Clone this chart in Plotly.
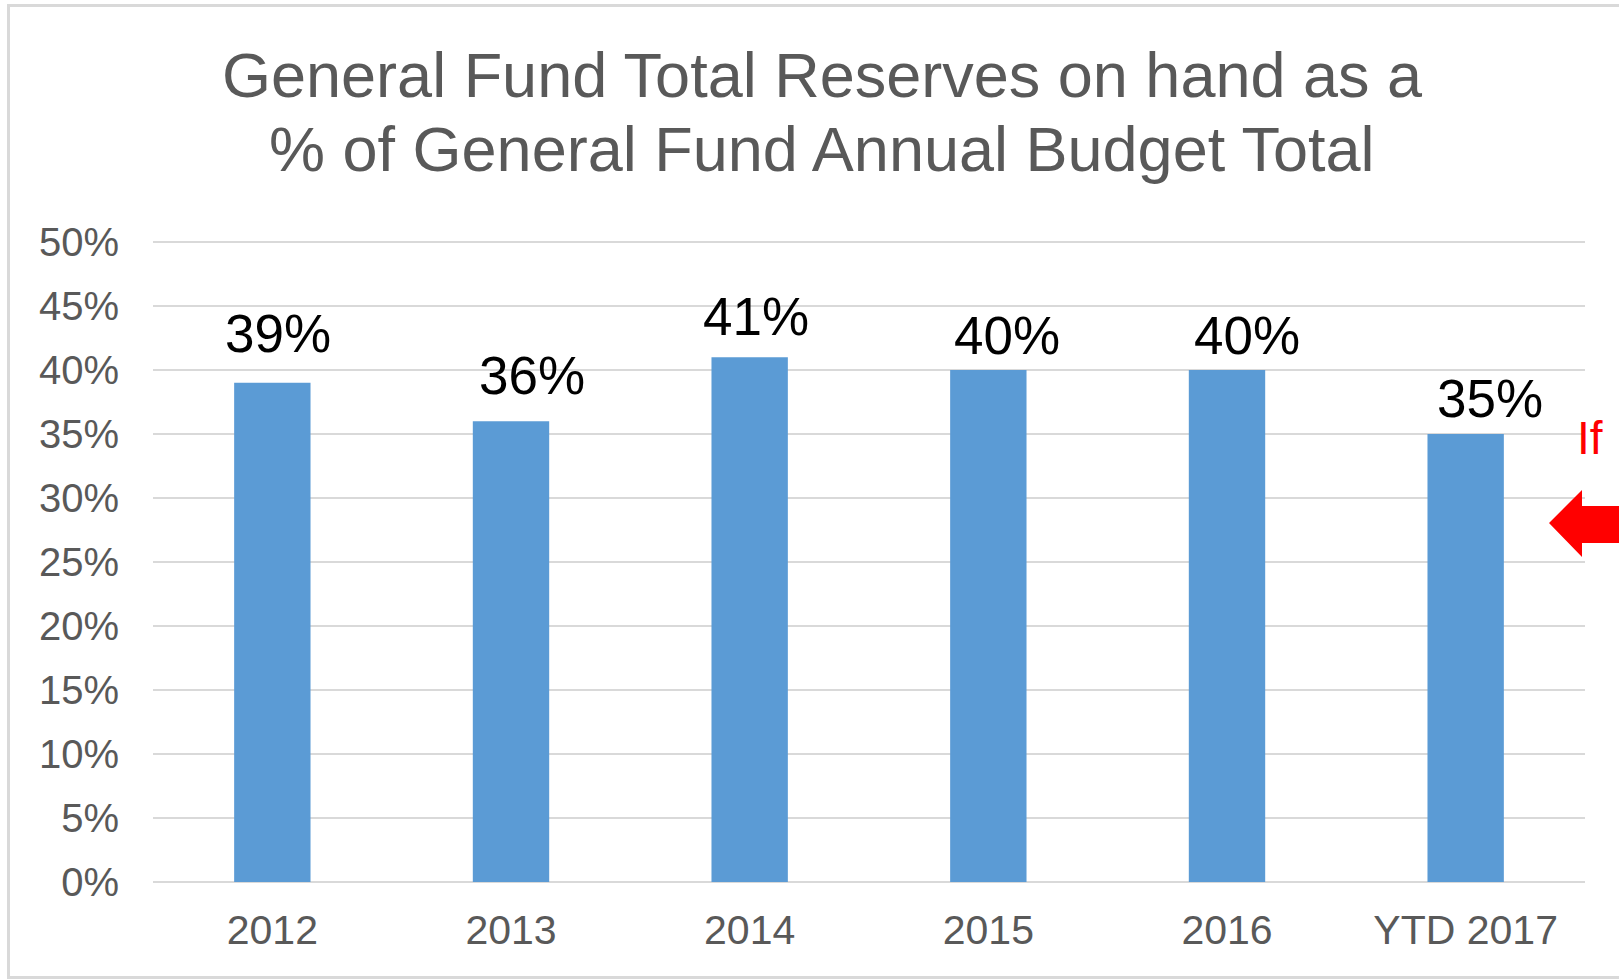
import plotly.graph_objects as go

# ---- data -------------------------------------------------------------
categories = ["2012", "2013", "2014", "2015", "2016", "YTD 2017"]
reserve_pct = [39, 36, 41, 40, 40, 35]

y_tick_values = [0, 5, 10, 15, 20, 25, 30, 35, 40, 45, 50]
y_tick_labels = ["0%", "5%", "10%", "15%", "20%", "25%", "30%", "35%", "40%", "45%", "50%"]

title_lines = ["General Fund Total Reserves on hand as a",
               "% of General Fund Annual Budget Total"]
side_note = "If"

# ---- layout geometry (pixels) ----------------------------------------
W, H = 1619, 979
PLOT_L, PLOT_R, PLOT_T, PLOT_B = 153, 1585, 241, 882
Y_TOP = 50.08  # a hair above 50 so the top gridline is kept

# hand-placed nudges for the value labels (x px, y px)
label_dx = [6, 21, 6, 19, 20, 24]
label_dy = [18, 14, 9, 3, 3, 4]

FONT = "Liberation Sans, Arial, sans-serif"
GREY_TEXT = "#595959"
GRID = "#D9D9D9"
BAR = "#5B9BD5"


def px_to_paper_x(px):
    return (px - PLOT_L) / (PLOT_R - PLOT_L)


def px_to_paper_y(py):
    return (PLOT_B - py) / (PLOT_B - PLOT_T)


fig = go.Figure(
    go.Bar(
        x=categories,
        y=reserve_pct,
        width=0.32,
        marker=dict(color=BAR, line=dict(width=0)),
        hoverinfo="skip",
    )
)

annotations = []
# value labels sit on the category index (numeric strings like "2012"
# would otherwise be read as positions on the category axis)
for i, (v, dx, dy) in enumerate(zip(reserve_pct, label_dx, label_dy)):
    annotations.append(dict(
        x=i, y=v, xref="x", yref="y",
        text=f"{v}%", showarrow=False,
        xanchor="center", yanchor="bottom",
        xshift=dx, yshift=dy,
        font=dict(family=FONT, size=53, color="#000000"),
    ))

# two-line chart title
for line, baseline in zip(title_lines, [98, 172]):
    annotations.append(dict(
        x=px_to_paper_x(822), y=px_to_paper_y(baseline + 0.212 * 63 + 1),
        xref="paper", yref="paper",
        text=line, showarrow=False,
        xanchor="center", yanchor="bottom",
        font=dict(family=FONT, size=63, color=GREY_TEXT),
    ))

# red side note
annotations.append(dict(
    x=px_to_paper_x(1575), y=px_to_paper_y(455 + 0.212 * 46 + 1),
    xref="paper", yref="paper",
    text=side_note, showarrow=False,
    xanchor="left", yanchor="bottom",
    font=dict(family=FONT, size=46, color="#FF0000"),
))

# red block arrow pointing left
ax = [1549, 1582, 1582, 1650, 1650, 1582, 1582]
ay = [523, 490, 506, 506, 543, 543, 557]
path = "M " + " L ".join(f"{px_to_paper_x(x)},{px_to_paper_y(y)}" for x, y in zip(ax, ay)) + " Z"

shapes = [
    dict(type="path", xref="paper", yref="paper", path=path,
         fillcolor="#FF0000", line=dict(width=0)),
    # outer chart frame
    dict(type="rect", xref="paper", yref="paper",
         x0=px_to_paper_x(8.5), x1=px_to_paper_x(1660),
         y0=px_to_paper_y(977.5), y1=px_to_paper_y(5.5),
         line=dict(color=GRID, width=3), fillcolor="rgba(0,0,0,0)"),
]

fig.update_layout(
    width=W, height=H, autosize=False,
    margin=dict(l=PLOT_L, r=W - PLOT_R, t=PLOT_T, b=H - PLOT_B, pad=0),
    paper_bgcolor="white", plot_bgcolor="white",
    showlegend=False,
    annotations=annotations,
    shapes=shapes,
    font=dict(family=FONT, color=GREY_TEXT),
)

fig.update_yaxes(
    range=[0, Y_TOP],
    tickmode="array", tickvals=y_tick_values, ticktext=y_tick_labels,
    showgrid=True, gridcolor=GRID, gridwidth=1.5,
    zeroline=True, zerolinecolor=GRID, zerolinewidth=1.5,
    showline=False, ticks="",
    ticklabelstandoff=33,
    tickfont=dict(family=FONT, size=40, color=GREY_TEXT),
    fixedrange=True,
)

fig.update_xaxes(
    type="category",
    categoryorder="array", categoryarray=categories,
    range=[-0.5, len(categories) - 0.5],
    showgrid=False, showline=False, zeroline=False, ticks="",
    ticklabelstandoff=20,
    tickfont=dict(family=FONT, size=41, color=GREY_TEXT),
    fixedrange=True,
)

fig.write_html("out.html", config=dict(displayModeBar=False))
